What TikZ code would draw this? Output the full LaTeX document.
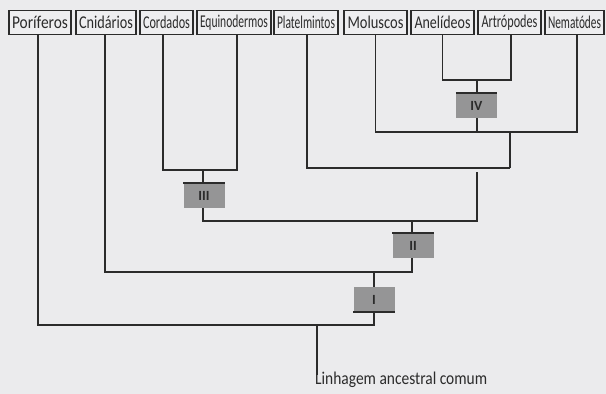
\documentclass[tikz,border=0pt]{standalone}
\usepackage{fontspec}
\setmainfont{Carlito}
\usepackage{graphicx}
\definecolor{bg}{HTML}{EBEBED}
\definecolor{boxfill}{HTML}{EEEEF0}
\definecolor{ink}{HTML}{2B2B2B}
\definecolor{clgray}{HTML}{959596}
\newcommand\sqz[2]{\resizebox{#1}{\height}{#2}}
\tikzset{
  taxon/.style={draw=ink, line width=1.1pt, fill=boxfill, minimum height=24pt, inner sep=0pt,
    font=\fontsize{18}{20}\selectfont, text=ink},
  clade/.style={fill=clgray, minimum width=41pt, minimum height=25pt, inner sep=0pt,
    font=\fontsize{14}{16}\selectfont\bfseries, text=ink},
  link/.style={draw=ink, line width=1.2pt},
  edge/.style={draw=ink, line width=1.5pt}
}
\begin{document}
\begin{tikzpicture}[x=1pt,y=-1pt]
\fill[bg] (0,0) rectangle (606,394);
\useasboundingbox (0,0) rectangle (606,394);

% taxa
\node[taxon, minimum width=62pt] (pori) at (40,22.5) {\sqz{56pt}{Poríferos}};
\node[taxon, minimum width=60pt] (cnid) at (106,22.5) {\sqz{54pt}{Cnidários}};
\node[taxon, minimum width=53pt] (cord) at (166.5,22.5) {\sqz{47pt}{Cordados}};
\node[taxon, minimum width=74pt] (equi) at (234,22.5) {\sqz{68pt}{Equinodermos}};
\node[taxon, minimum width=64pt] (plat) at (306,22.5) {\sqz{58pt}{Platelmintos}};
\node[taxon, minimum width=63pt] (mol) at (375.5,22.5) {\sqz{56pt}{Moluscos}};
\node[taxon, minimum width=63pt] (anel) at (442.5,22.5) {\sqz{56pt}{Anelídeos}};
\node[taxon, minimum width=63pt] (artr) at (509.5,22.5) {\sqz{56pt}{Artrópodes}};
\node[taxon, minimum width=59pt] (nem) at (574.5,22.5) {\sqz{53pt}{Nematódes}};

% clade boxes
\node[clade] (IV) at (476.5,105.5) {IV};
\node[clade] (III) at (204,195.5) {III};
\node[clade] (II) at (413,245.5) {II};
\node[clade] (I) at (374,299.5) {I};
\draw[edge] (IV.north west) -- (IV.north east);
\draw[edge] (III.north west) -- (III.north east);
\draw[edge] (II.north west) -- (II.north east);
\draw[edge] (I.south west) -- (I.south east);

% root label
\node[anchor=base west, inner sep=0pt, font=\fontsize{18}{20}\selectfont, text=ink] (root) at (315,384)
  {\sqz{172pt}{Linhagem ancestral comum}};

% junctions
\coordinate (c4) at (477,80);
\coordinate (c5) at (477,132);
\coordinate (c6) at (510,132);
\coordinate (c6b) at (510,168);
\coordinate (c7top) at (477,172);
\coordinate (c7) at (477,221);
\coordinate (c3) at (203,170);
\coordinate (c8) at (203,221);
\coordinate (c9) at (412,221);
\coordinate (c10) at (412,272);
\coordinate (c11) at (374,272);
\coordinate (c12) at (374,325);
\coordinate (c13) at (317,325);
\coordinate (c14) at (317,375);

% connectors
\draw[link] (anel.south) |- (c4) -| ([xshift=1.5pt]artr.south);
\draw[link] (c4) -- (c4 |- IV.north);
\draw[link] (c5 |- IV.south) -- (c5);
\draw[link] (mol.south) |- (c5) -| ([xshift=2.5pt]nem.south);
\draw[link] (c6) -- (c6b);
\draw[link] ([xshift=1pt]plat.south) |- (c6b);
\draw[link] ([xshift=-3.5pt]cord.south) |- (c3) -| ([xshift=3pt]equi.south);
\draw[link] (c3) -- (c3 |- III.north);
\draw[link] (c8 |- III.south) -- (c8) -- (c7) -- (c7top);
\draw[link] (c9) -- (c9 |- II.north);
\draw[link] (c10 |- II.south) -- (c10) -| ([xshift=-1pt]cnid.south);
\draw[link] (c11) -- (c11 |- I.north);
\draw[link] (c12 |- I.south) -- (c12) -| ([xshift=-2pt]pori.south);
\draw[link] (c13) -- (c14);
\end{tikzpicture}
\end{document}
